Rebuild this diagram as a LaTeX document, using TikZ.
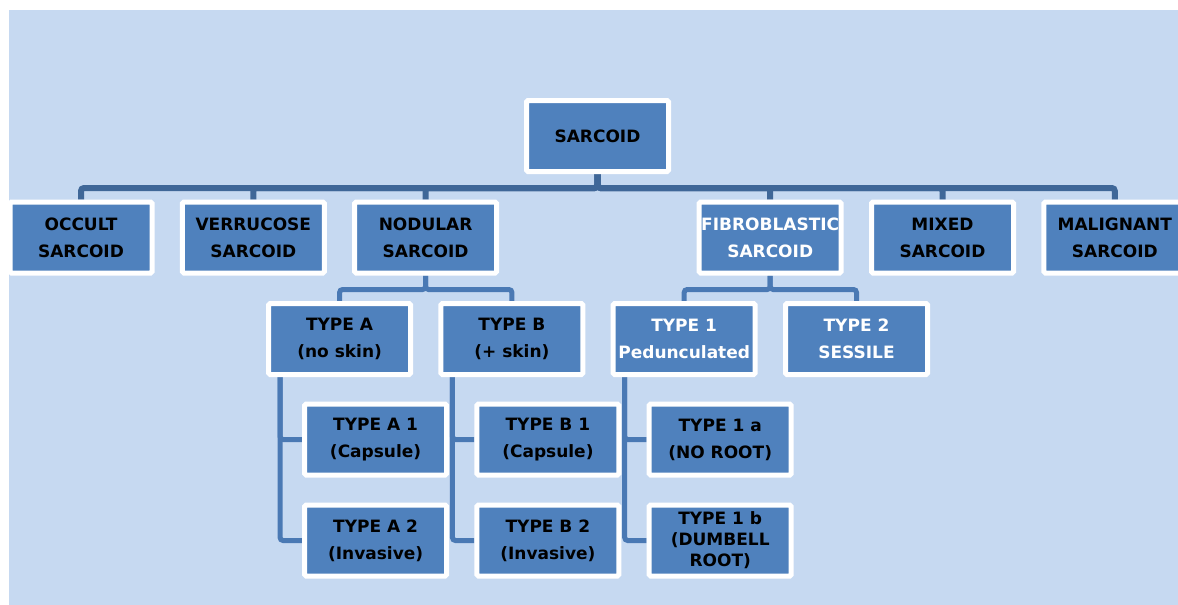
\documentclass[tikz,border=0pt]{standalone}
\usepackage{fontspec}
\setmainfont{DejaVu Sans}
\usetikzlibrary{positioning, backgrounds}
\definecolor{bgblue}{HTML}{C6D9F1}
\definecolor{boxblue}{HTML}{4F81BD}
\definecolor{darkline}{HTML}{3F6798}
\definecolor{midline}{HTML}{4A79B4}

\begin{document}
\begin{tikzpicture}[x=1pt,y=1pt,node distance=172.3pt,
            box/.style={rectangle,draw=white,line width=5pt,fill=boxblue,rounded corners=1.5pt,
              minimum width=142pt,minimum height=71pt,align=center,inner sep=0pt,
              font=\fontsize{17}{27}\selectfont\bfseries},
            lite/.style={text=white},
            trunk/.style={draw=darkline,line width=6pt,rounded corners=3pt},
            branch/.style={draw=midline,line width=5pt,rounded corners=3pt}]
            \useasboundingbox (0,0) rectangle (1178,-605);

            \node[box]      (S)   at (597.5,-136)        {SARCOID};
            \node[box]      (OC)  at (81,-237.5)         {OCCULT\\SARCOID};
            \node[box]      (VE)  [right of=OC]          {VERRUCOSE\\SARCOID};
            \node[box]      (NO)  [right of=VE]          {NODULAR\\SARCOID};
            \node[box,lite] (FI)  [right of=NO, xshift=172.3pt] {FIBROBLASTIC\\SARCOID};
            \node[box]      (MI)  [right of=FI]          {MIXED\\SARCOID};
            \node[box]      (MA)  [right of=MI]          {MALIGNANT\\SARCOID};

            \node[box]      (TA)  [below of=NO, node distance=101.5pt, xshift=-86pt] {TYPE A\\(no skin)};
            \node[box]      (TB)  [right of=TA]          {TYPE B\\(+ skin)};
            \node[box,lite] (T1)  [below of=FI, node distance=101.5pt, xshift=-86pt] {TYPE 1\\Pedunculated};
            \node[box,lite] (T2)  [right of=T1]          {TYPE 2\\SESSILE};

            \node[box]      (A1)  [below of=TA, node distance=100.5pt, xshift=36pt] {TYPE A 1\\(Capsule)};
            \node[box]      (A2)  [below of=A1, node distance=101pt]                {TYPE A 2\\(Invasive)};
            \node[box]      (B1)  [below of=TB, node distance=100.5pt, xshift=36pt] {TYPE B 1\\(Capsule)};
            \node[box]      (B2)  [below of=B1, node distance=101pt]                {TYPE B 2\\(Invasive)};
            \node[box]      (T1a) [below of=T1, node distance=100.5pt, xshift=36pt] {TYPE 1 a\\(NO ROOT)};
            \node[box,font=\fontsize{17}{21}\selectfont\bfseries]
                            (T1b) [below of=T1a, node distance=101pt]               {TYPE 1 b\\(DUMBELL\\ROOT)};

            \begin{pgfonlayer}{background}
            \fill[bgblue] (9,-10) rectangle (1178,-605);
            \foreach \ch in {OC,VE,NO,FI,MI,MA}
              \draw[trunk] (S.south) -- ++(0,-14) -| (\ch.north);
            \foreach \pa/\ch in {NO/TA,NO/TB,FI/T1,FI/T2}
              \draw[branch] (\pa.south) -- ++(0,-14) -| (\ch.north);
            \foreach \pa/\ch in {TA/A1,TA/A2,TB/B1,TB/B2,T1/T1a,T1/T1b}
              \draw[branch] ([xshift=14pt]\pa.south west) |- (\ch.west);
            \end{pgfonlayer}
\end{tikzpicture}
\end{document}
